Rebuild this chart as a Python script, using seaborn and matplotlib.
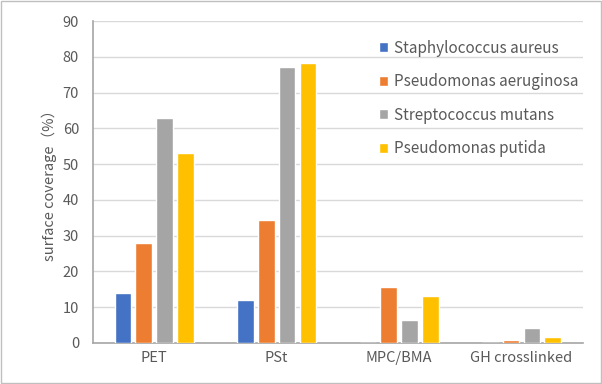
import numpy as np
import pandas as pd
import seaborn as sns
import matplotlib.pyplot as plt
from matplotlib.patches import Rectangle

# chart data
categories = ["PET", "PSt", "MPC/BMA", "GH crosslinked"]
species = ["Staphylococcus aureus", "Pseudomonas aeruginosa",
           "Streptococcus mutans", "Pseudomonas putida"]
s_aureus = [14.0, 12.0, 0.0, 0.0]
p_aeruginosa = [27.9, 34.3, 15.7, 0.9]
s_mutans = [62.8, 77.1, 6.4, 4.2]
p_putida = [53.0, 78.4, 13.2, 1.6]
colors = ["#4472c4", "#ed7d31", "#a5a5a5", "#ffc000"]

# long-form table for seaborn
rows = []
for name, vals in zip(species, [s_aureus, p_aeruginosa, s_mutans, p_putida]):
    for cat, v in zip(categories, vals):
        rows.append({"category": cat, "species": name, "coverage": v})
df = pd.DataFrame(rows)

sns.set_style("white")
plt.rcParams['font.family'] = ['Noto Sans CJK JP', 'DejaVu Sans']

fig = plt.figure(figsize=(6.02, 3.84), dpi=100)
ax = fig.add_axes([0.1545, 0.107, 0.8135, 0.838])

sns.barplot(data=df, x="category", y="coverage", hue="species",
            hue_order=species, order=categories, palette=colors,
            width=0.68, gap=0.2, saturation=1, ax=ax, zorder=3)

ax.set_ylim(0, 90)
ax.set_yticks(np.arange(0, 91, 10))
ax.yaxis.grid(True, color="#d9d9d9", linewidth=1, zorder=0)
ax.set_axisbelow(True)
ax.set_xlim(-0.5, 3.5)

for side in ["top", "right"]:
    ax.spines[side].set_visible(False)
ax.spines["left"].set_color("#a6a6a6")
ax.spines["bottom"].set_color("#a6a6a6")
ax.spines["left"].set_linewidth(1.2)
ax.spines["bottom"].set_linewidth(1.2)

ax.tick_params(axis="both", length=0, labelsize=10.5, colors="#595959")
ax.tick_params(axis="y", pad=10)
ax.tick_params(axis="x", pad=6)
ax.set_xlabel("")
ax.set_ylabel("surface coverage（%）", fontsize=10.5, color="#595959", labelpad=4)

leg = ax.legend(loc="upper left", bbox_to_anchor=(0.555, 0.985), frameon=False,
                fontsize=11, labelspacing=1.08, handlelength=0.65,
                handleheight=0.65, handletextpad=0.35)
for t in leg.get_texts():
    t.set_color("#595959")

# outer chart border
fig.patches.append(Rectangle((0.002, 0.003), 0.996, 0.994, transform=fig.transFigure,
                             fill=False, edgecolor="#bfbfbf", linewidth=1))

plt.savefig("out.png", dpi=100)
plt.close()
